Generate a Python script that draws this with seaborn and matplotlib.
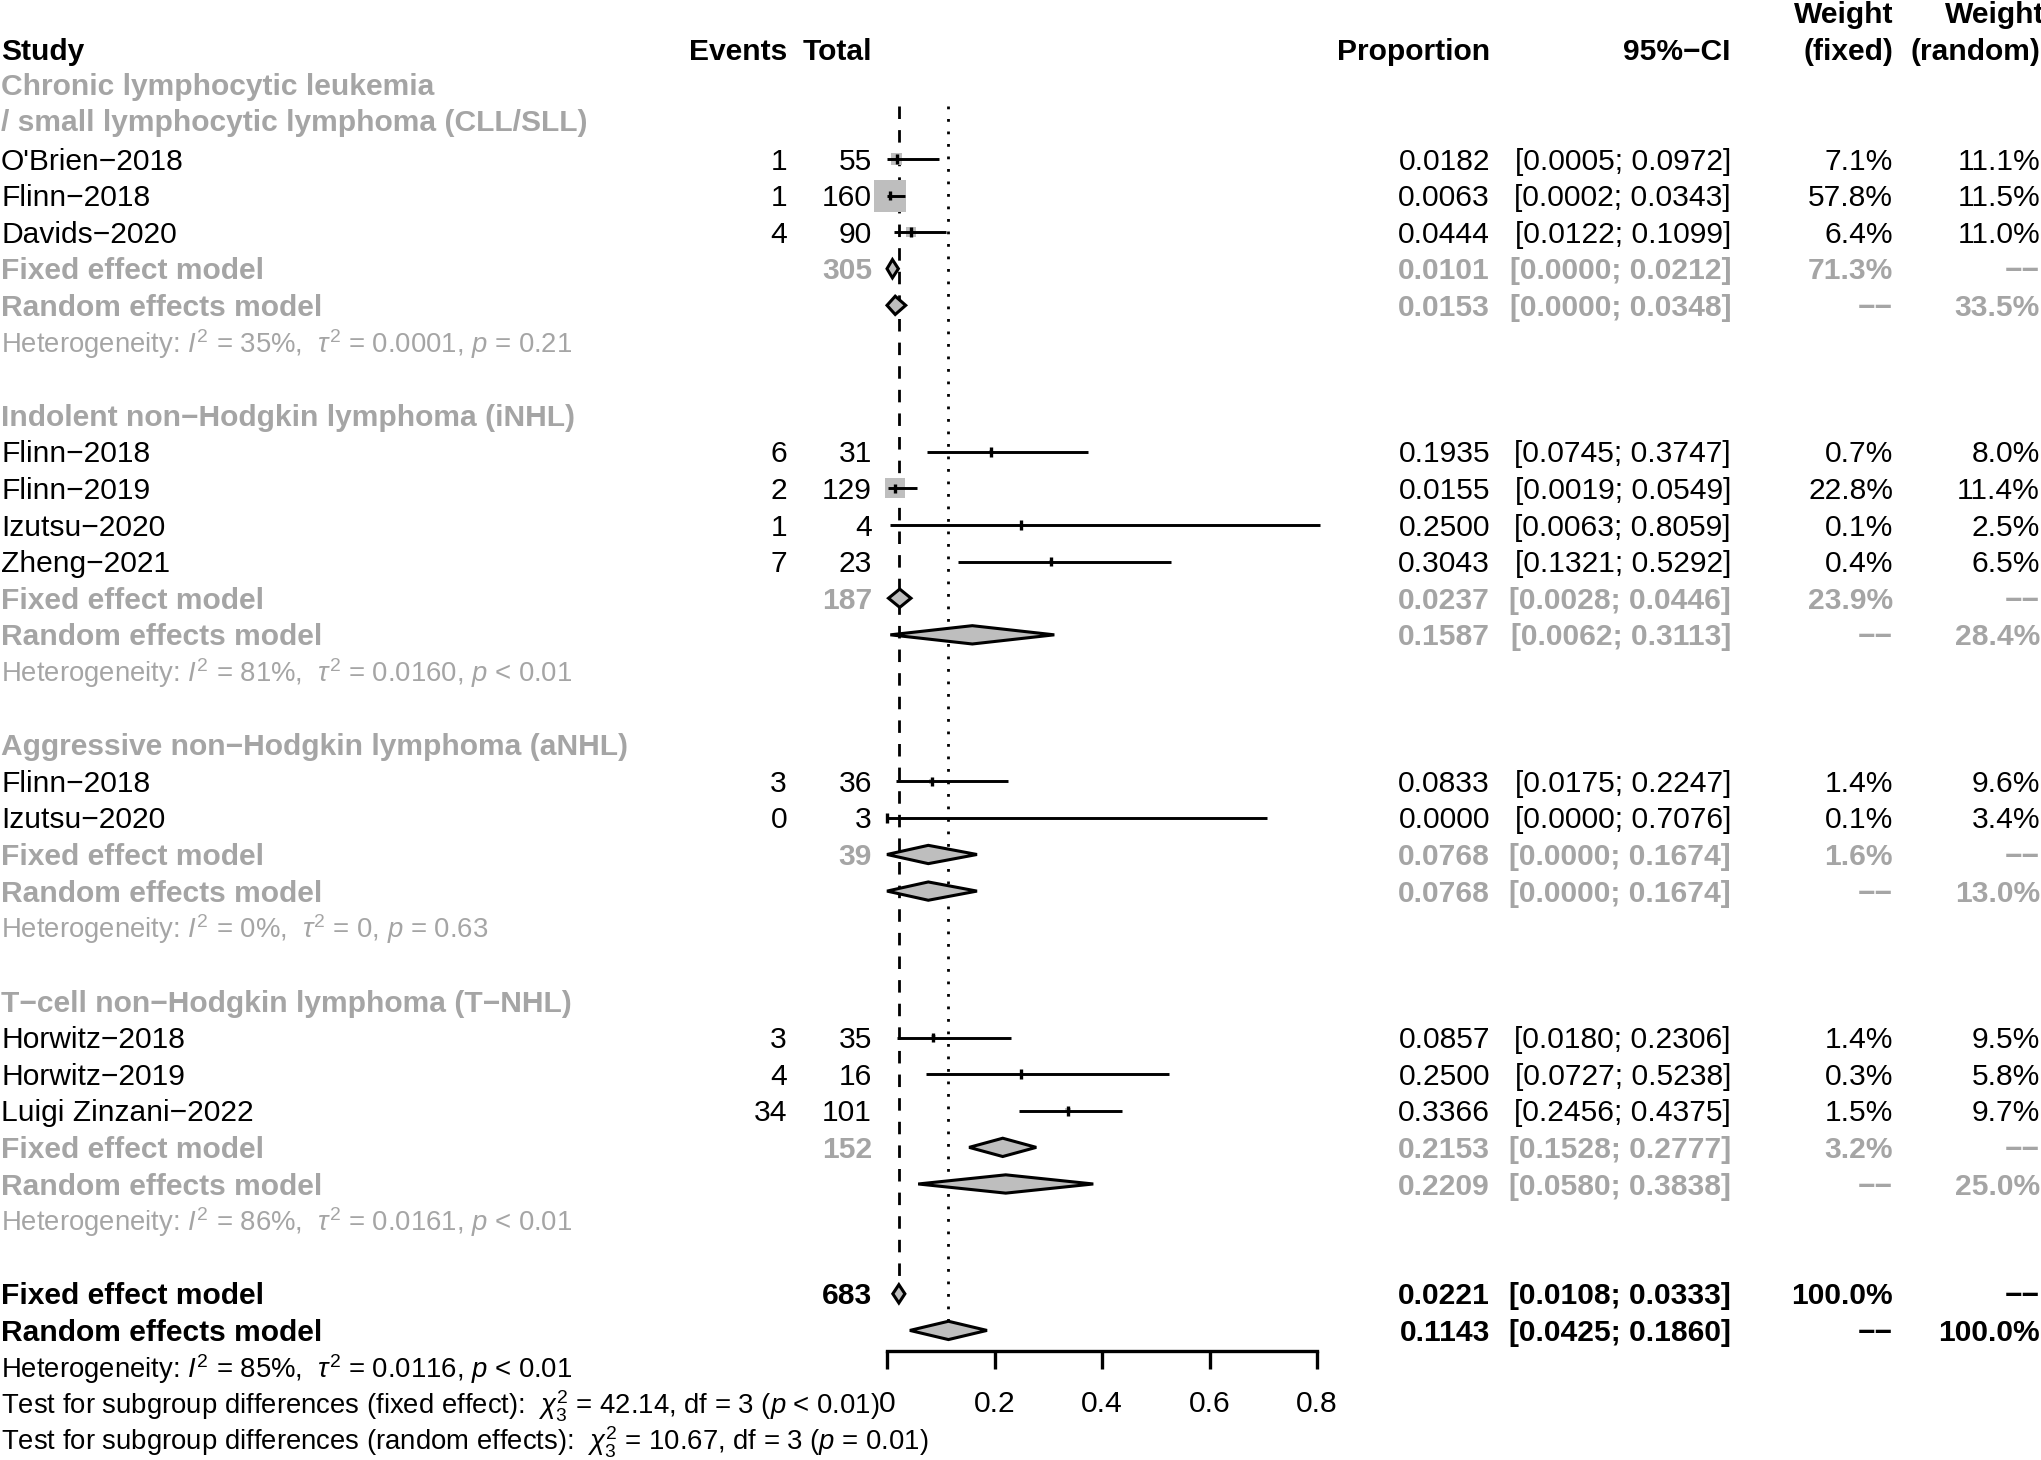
import numpy as np
import pandas as pd
import matplotlib
matplotlib.use("Agg")
import matplotlib.pyplot as plt
import matplotlib.transforms as mtransforms
import seaborn as sns

# ---- data ----
group_labels = [
    ["Chronic lymphocytic leukemia", "/ small lymphocytic lymphoma (CLL/SLL)"],
    ["Indolent non\u2212Hodgkin lymphoma (iNHL)"],
    ["Aggressive non\u2212Hodgkin lymphoma (aNHL)"],
    ["T\u2212cell non\u2212Hodgkin lymphoma (T\u2212NHL)"],
]

study_names = [
    "O'Brien\u22122018", "Flinn\u22122018", "Davids\u22122020",
    "Flinn\u22122018", "Flinn\u22122019", "Izutsu\u22122020", "Zheng\u22122021",
    "Flinn\u22122018", "Izutsu\u22122020",
    "Horwitz\u22122018", "Horwitz\u22122019", "Luigi Zinzani\u22122022",
]
study_group = [0, 0, 0, 1, 1, 1, 1, 2, 2, 3, 3, 3]
events = [1, 1, 4, 6, 2, 1, 7, 3, 0, 3, 4, 34]
totals = [55, 160, 90, 31, 129, 4, 23, 36, 3, 35, 16, 101]
prop = [0.0182, 0.0063, 0.0444, 0.1935, 0.0155, 0.2500, 0.3043,
        0.0833, 0.0000, 0.0857, 0.2500, 0.3366]
ci_lower = [0.0005, 0.0002, 0.0122, 0.0745, 0.0019, 0.0063, 0.1321,
            0.0175, 0.0000, 0.0180, 0.0727, 0.2456]
ci_upper = [0.0972, 0.0343, 0.1099, 0.3747, 0.0549, 0.8059, 0.5292,
            0.2247, 0.7076, 0.2306, 0.5238, 0.4375]
weight_fixed = [7.1, 57.8, 6.4, 0.7, 22.8, 0.1, 0.4, 1.4, 0.1, 1.4, 0.3, 1.5]
weight_random = [11.1, 11.5, 11.0, 8.0, 11.4, 2.5, 6.5, 9.6, 3.4, 9.5, 5.8, 9.7]

group_total = [305, 187, 39, 152]
group_fixed = [0.0101, 0.0237, 0.0768, 0.2153]
group_fixed_lower = [0.0000, 0.0028, 0.0000, 0.1528]
group_fixed_upper = [0.0212, 0.0446, 0.1674, 0.2777]
group_fixed_weight = [71.3, 23.9, 1.6, 3.2]
group_random = [0.0153, 0.1587, 0.0768, 0.2209]
group_random_lower = [0.0000, 0.0062, 0.0000, 0.0580]
group_random_upper = [0.0348, 0.3113, 0.1674, 0.3838]
group_random_weight = [33.5, 28.4, 13.0, 25.0]
group_i2 = ["35%", "81%", "0%", "86%"]
group_tau2 = ["0.0001", "0.0160", "0", "0.0161"]
group_p = ["= 0.21", "< 0.01", "= 0.63", "< 0.01"]

overall_total = 683
overall_fixed = [0.0221, 0.0108, 0.0333]
overall_random = [0.1143, 0.0425, 0.1860]
overall_het = ["85%", "0.0116", "< 0.01"]
test_names = ["fixed effect", "random effects"]
test_chi2 = ["42.14", "10.67"]
test_p = ["< 0.01", "= 0.01"]

xticks = [0, 0.2, 0.4, 0.6, 0.8]
xtick_labels = ["0", "0.2", "0.4", "0.6", "0.8"]

# ---- style ----
sns.set_theme(style="white")
plt.rcParams["font.family"] = ["Liberation Sans", "DejaVu Sans"]
plt.rcParams["mathtext.fontset"] = "custom"
plt.rcParams["mathtext.rm"] = "Liberation Sans"
plt.rcParams["mathtext.it"] = "Liberation Sans:italic"
plt.rcParams["mathtext.bf"] = "Liberation Sans:bold"

FS = 21.6
FS_STAT = 19.8      # heterogeneity / test lines are one point smaller
GREY = "#a5a5a5"
FILL = "#bebebe"
MINUS2 = "\u2212\u2212"

W, H, DPI = 2041, 1460, 100
ROW0, PITCH = 49.07, 36.61   # pixel y of row 0, row pitch
BASE = 0.29                  # baseline offset below row centre (rows)

# column anchors in pixels
COL_STUDY = 1
COL_EVENTS = 787
COL_TOTAL = 872
COL_PROP = 1490
COL_CI = 1731
COL_WF = 1893
COL_WR = 2040

fig = plt.figure(figsize=(W / DPI, H / DPI), dpi=DPI)
ax = fig.add_axes([887 / W, 0, (1317 - 887) / W, 1])
ax.set_xlim(0, 0.8)
ax.set_ylim((H - ROW0) / PITCH, -ROW0 / PITCH)
ax.patch.set_alpha(0)

trans = mtransforms.blended_transform_factory(fig.transFigure, ax.transData)


def put(col, row, s, ha="right", color="black", weight="normal", size=FS):
    ax.text(col / W, row + BASE, s, transform=trans, ha=ha, va="baseline",
            color=color, fontweight=weight, fontsize=size, clip_on=False)


def diamond(est, lo, hi, row):
    ax.fill([lo, est, hi, est], [row, row - 0.25, row, row + 0.25],
            facecolor=FILL, edgecolor="black", linewidth=2.2, zorder=4,
            clip_on=False)


def ci_text(lo, hi):
    return f"[{lo:.4f}; {hi:.4f}]"


# header
put(COL_STUDY, 0, "Study", ha="left", weight="bold")
put(COL_EVENTS, 0, "Events", weight="bold")
put(COL_TOTAL, 0, "Total", weight="bold")
put(COL_PROP, 0, "Proportion", weight="bold")
put(COL_CI, 0, "95%\u2212CI", weight="bold")
put(COL_WF, -1, "Weight", weight="bold")
put(COL_WF, 0, "(fixed)", weight="bold")
put(COL_WR + 4, -1, "Weight", weight="bold")
put(COL_WR, 0, "(random)", weight="bold")

row = 1
study_rows = []
for g, lines in enumerate(group_labels):
    shift = -0.04 if len(lines) > 1 else 0.0
    for line in lines:
        put(COL_STUDY, row + shift, line, ha="left", color=GREY, weight="bold")
        row += 1
    for i in [k for k, sg in enumerate(study_group) if sg == g]:
        study_rows.append(row)
        put(COL_STUDY, row, study_names[i], ha="left")
        put(COL_EVENTS, row, str(events[i]))
        put(COL_TOTAL, row, str(totals[i]))
        put(COL_PROP, row, f"{prop[i]:.4f}")
        put(COL_CI, row, ci_text(ci_lower[i], ci_upper[i]))
        put(COL_WF, row, f"{weight_fixed[i]:.1f}%")
        put(COL_WR, row, f"{weight_random[i]:.1f}%")
        row += 1
    # fixed effect model of the subgroup
    put(COL_STUDY, row, "Fixed effect model", ha="left", color=GREY, weight="bold")
    put(COL_TOTAL, row, str(group_total[g]), color=GREY, weight="bold")
    put(COL_PROP, row, f"{group_fixed[g]:.4f}", color=GREY, weight="bold")
    put(COL_CI, row, ci_text(group_fixed_lower[g], group_fixed_upper[g]), color=GREY, weight="bold")
    put(COL_WF, row, f"{group_fixed_weight[g]:.1f}%", color=GREY, weight="bold")
    put(COL_WR, row, MINUS2, color=GREY, weight="bold")
    diamond(group_fixed[g], group_fixed_lower[g], group_fixed_upper[g], row)
    row += 1
    # random effects model of the subgroup
    put(COL_STUDY, row, "Random effects model", ha="left", color=GREY, weight="bold")
    put(COL_PROP, row, f"{group_random[g]:.4f}", color=GREY, weight="bold")
    put(COL_CI, row, ci_text(group_random_lower[g], group_random_upper[g]), color=GREY, weight="bold")
    put(COL_WF, row, MINUS2, color=GREY, weight="bold")
    put(COL_WR, row, f"{group_random_weight[g]:.1f}%", color=GREY, weight="bold")
    diamond(group_random[g], group_random_lower[g], group_random_upper[g], row)
    row += 1
    put(COL_STUDY, row,
        f"Heterogeneity: $I^2$ = {group_i2[g]},  $\\tau^2$ = {group_tau2[g]}, $p$ {group_p[g]}",
        ha="left", color=GREY, size=FS_STAT)
    row += 2

# overall results
fixed_row = row
put(COL_STUDY, row, "Fixed effect model", ha="left", weight="bold")
put(COL_TOTAL, row, str(overall_total), weight="bold")
put(COL_PROP, row, f"{overall_fixed[0]:.4f}", weight="bold")
put(COL_CI, row, ci_text(overall_fixed[1], overall_fixed[2]), weight="bold")
put(COL_WF, row, "100.0%", weight="bold")
put(COL_WR, row, MINUS2, weight="bold")
diamond(overall_fixed[0], overall_fixed[1], overall_fixed[2], row)
row += 1
random_row = row
put(COL_STUDY, row, "Random effects model", ha="left", weight="bold")
put(COL_PROP, row, f"{overall_random[0]:.4f}", weight="bold")
put(COL_CI, row, ci_text(overall_random[1], overall_random[2]), weight="bold")
put(COL_WF, row, MINUS2, weight="bold")
put(COL_WR, row, "100.0%", weight="bold")
diamond(overall_random[0], overall_random[1], overall_random[2], row)
row += 1
put(COL_STUDY, row,
    f"Heterogeneity: $I^2$ = {overall_het[0]},  $\\tau^2$ = {overall_het[1]}, $p$ {overall_het[2]}",
    ha="left", size=FS_STAT)
row += 1
for name, chi, p in zip(test_names, test_chi2, test_p):
    put(COL_STUDY, row,
        f"Test for subgroup differences ({name}):  $\\chi^2_3$ = {chi}, df = 3 ($p$ {p})",
        ha="left", size=FS_STAT)
    row += 1

# study squares (area ~ fixed weight), CI lines and estimate ticks
df = pd.DataFrame({
    "prop": prop,
    "row": study_rows,
    "area": [(32 * np.sqrt(w / 57.8) * 0.72) ** 2 for w in weight_fixed],
})
amin, amax = df["area"].min(), df["area"].max()
sns.scatterplot(data=df, x="prop", y="row", size="area", sizes=(amin, amax),
                size_norm=(amin, amax), marker="s", color=FILL, linewidth=0,
                legend=False, zorder=2, ax=ax, clip_on=False)
ax.hlines(study_rows, ci_lower, ci_upper, color="black", linewidth=2.1,
          zorder=3, clip_on=False)
ax.vlines(prop, np.array(study_rows) - 0.13, np.array(study_rows) + 0.13,
          color="black", linewidth=2.4, zorder=3, clip_on=False)

# reference lines for the overall estimates
ax.plot([overall_fixed[0]] * 2, [1.55, fixed_row - 0.25], color="black",
        linewidth=2.0, dashes=(4.5, 4), zorder=1)
ax.plot([overall_random[0]] * 2, [1.55, random_row - 0.25], color="black",
        linewidth=2.0, linestyle=(0, (1, 3.5)), zorder=1)

# x axis
sns.despine(ax=ax, left=True, top=True, right=True, bottom=False)
ax.spines["bottom"].set_position(("data", random_row + 0.57))
ax.spines["bottom"].set_bounds(0, 0.8)
ax.spines["bottom"].set_linewidth(2.4)
ax.spines["bottom"].set_color("black")
ax.set_xticks(xticks, xtick_labels)
ax.set_yticks([])
ax.tick_params(axis="x", direction="out", length=13.2, width=2.4, pad=15,
               labelsize=FS, colors="black", bottom=True)
ax.set_xlabel("")
ax.set_ylabel("")
ax.grid(False)

fig.savefig("out.png", dpi=DPI, facecolor="white")
